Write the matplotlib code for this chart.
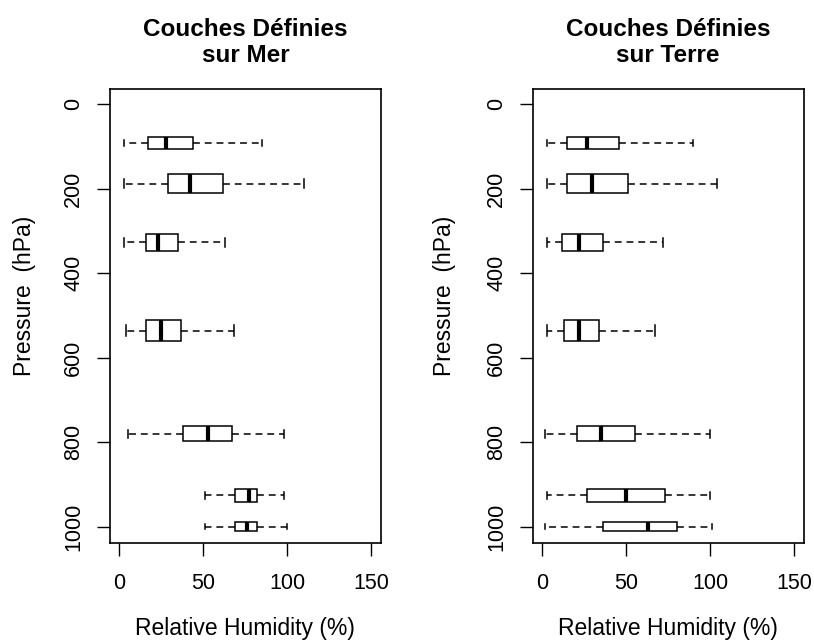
import matplotlib
matplotlib.use("Agg")
import matplotlib.pyplot as plt

plt.rcParams['font.family'] = ['Liberation Sans', 'DejaVu Sans']

# Layer pressures (hPa) and box thickness (hPa)
positions = [92, 188, 327, 536, 780, 926, 1000]
widths = [29, 46, 41, 51, 37, 30, 22]

# Sea (Mer)
mer_lo = [3, 3, 3, 4, 5, 51, 51]
mer_q1 = [17, 29, 16, 16, 38, 69, 69]
mer_med = [28, 42, 23, 25, 53, 77, 76]
mer_q3 = [44, 62, 35, 37, 67, 82, 82]
mer_hi = [85, 110, 63, 68, 98, 98, 100]

# Land (Terre)
ter_lo = [3, 3, 3, 3, 2, 3, 2]
ter_q1 = [15, 15, 12, 13, 21, 27, 36]
ter_med = [27, 30, 22, 22, 35, 50, 63]
ter_q3 = [46, 51, 36, 34, 55, 73, 80]
ter_hi = [90, 104, 72, 67, 100, 100, 101]

titles = ["Couches Définies\nsur Mer", "Couches Définies\nsur Terre"]
xticks = [0, 50, 100, 150]
yticks = [0, 200, 400, 600, 800, 1000]

W, H = 814, 642
fig = plt.figure(figsize=(W / 100, H / 100), dpi=100)

frames = [(110, 380.7), (532.7, 803.7)]
top, bottom = 89.3, 542.7
ylab_x = [25, 445]

datasets = [
    (mer_lo, mer_q1, mer_med, mer_q3, mer_hi),
    (ter_lo, ter_q1, ter_med, ter_q3, ter_hi),
]

for i, ((x0, x1), data) in enumerate(zip(frames, datasets)):
    ax = fig.add_axes([x0 / W, 1 - bottom / H, (x1 - x0) / W, (bottom - top) / H])
    lo, q1, med, q3, hi = data
    stats = []
    for k in range(len(positions)):
        stats.append(dict(whislo=lo[k], q1=q1[k], med=med[k], q3=q3[k],
                          whishi=hi[k], fliers=[]))
    ax.bxp(stats, positions=positions, widths=widths, orientation='horizontal',
           patch_artist=True, showfliers=False, manage_ticks=False,
           capwidths=[w * 0.5 for w in widths],
           boxprops=dict(facecolor='white', edgecolor='black', linewidth=1.1),
           whiskerprops=dict(color='black', linewidth=1.1, linestyle=(0, (4.5, 3.2))),
           capprops=dict(color='black', linewidth=1.1),
           medianprops=dict(color='black', linewidth=3.0, solid_capstyle='butt'))
    ax.set_xlim(-5.5, 155.5)
    ax.set_ylim(1038, -35)
    ax.set_xticks(xticks)
    ax.set_yticks(yticks)
    ax.set_yticklabels([str(v) for v in yticks], rotation=90, va='center')
    ax.tick_params(axis='both', length=9.5, width=1.0, labelsize=15.5)
    ax.tick_params(axis='x', pad=12)
    ax.tick_params(axis='y', pad=9)
    for s in ax.spines.values():
        s.set_linewidth(1.2)
    ax.set_xlabel("Relative Humidity (%)", fontsize=16.5, va='center')
    ax.xaxis.set_label_coords(0.5, (bottom - 628) / (bottom - top))
    ax.set_ylabel("Pressure  (hPa)", fontsize=16.5, va='center')
    ax.yaxis.set_label_coords((ylab_x[i] - x0) / (x1 - x0), (bottom - 295.8) / (bottom - top))
    ax.set_title(titles[i], fontsize=17.5, fontweight='bold', pad=19.5, linespacing=1.2)

fig.savefig("out.png", dpi=100)
